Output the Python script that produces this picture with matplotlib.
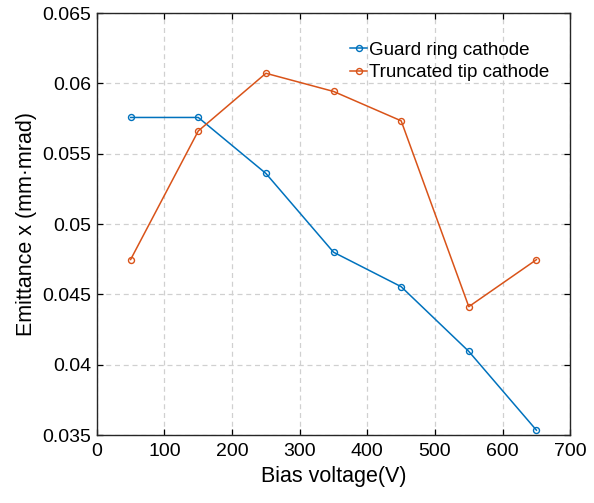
import matplotlib
matplotlib.use("Agg")
import matplotlib.pyplot as plt

plt.rcParams['font.family'] = ['Liberation Sans', 'DejaVu Sans']

# bias voltage steps (V)
bias = [50, 150, 250, 350, 450, 550, 650]
# emittance x (mm.mrad)
guard_ring = [0.05758, 0.05758, 0.0536, 0.0480, 0.04555, 0.04095, 0.03535]
truncated_tip = [0.04748, 0.05662, 0.06072, 0.05943, 0.05734, 0.04413, 0.04747]

blue = "#0072BD"
orange = "#D95319"

fig = plt.figure(figsize=(5.94, 5.03), dpi=100)
ax = fig.add_axes([0.163, 0.135, 0.797, 0.839])

ax.plot(bias, guard_ring, "-o", color=blue, lw=1.1, ms=4.3, mfc="none", mew=1.0,
        label="Guard ring cathode")
ax.plot(bias, truncated_tip, "-o", color=orange, lw=1.1, ms=4.3, mfc="none", mew=1.0,
        label="Truncated tip cathode")

ax.set_xlim(0, 700)
ax.set_ylim(0.035, 0.065)
ax.set_xticks(range(0, 701, 100))
ax.set_yticks([0.035, 0.04, 0.045, 0.05, 0.055, 0.06, 0.065])
ax.set_yticklabels(["0.035", "0.04", "0.045", "0.05", "0.055", "0.06", "0.065"])

ax.grid(True, ls=(0, (4, 3)), color="#d0d0d0", lw=0.9)
ax.set_axisbelow(True)
ax.tick_params(direction="in", top=True, right=True, length=4, width=0.9,
               labelsize=14)
ax.tick_params(axis="x", pad=6)
ax.tick_params(axis="y", pad=4)
for s in ax.spines.values():
    s.set_linewidth(1.0)
    s.set_color("#262626")

ax.set_xlabel("Bias voltage(V)", fontsize=15.5, labelpad=4)
ax.set_ylabel("Emittance x (mm\u00b7mrad)", fontsize=15.5, labelpad=4)

ax.legend(loc="upper left", bbox_to_anchor=(0.52, 0.95), frameon=False,
          fontsize=13.5, handlelength=0.9, handletextpad=0.1, labelspacing=0.28,
          borderaxespad=0)

fig.savefig("out.png", dpi=100)
